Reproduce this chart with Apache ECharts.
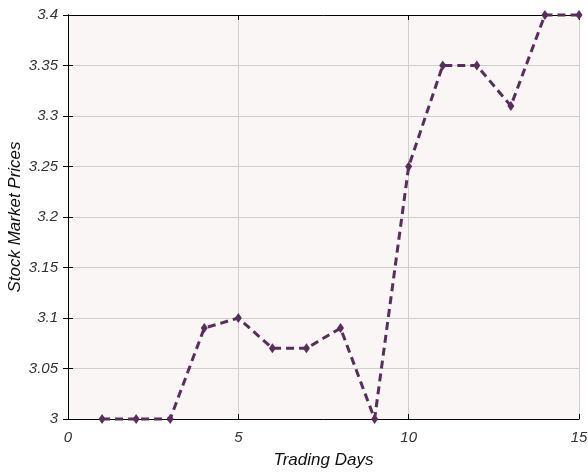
<!DOCTYPE html>
<html><head><meta charset="utf-8">
<script src="https://cdn.jsdelivr.net/npm/echarts@6/dist/echarts.min.js"></script>
<style>html,body{margin:0;padding:0;background:#fff}#c{width:588px;height:472px}</style>
</head><body><div id="c"></div>
<script>
const days = [1,2,3,4,5,6,7,8,9,10,11,12,13,14,15];
const prices = [3.00,3.00,3.00,3.09,3.10,3.07,3.07,3.09,3.00,3.25,3.35,3.35,3.31,3.40,3.40];
const xTicks = [0,5,10,15];
const yTicks = [3,3.05,3.1,3.15,3.2,3.25,3.3,3.35,3.4];

const chart = echarts.init(document.getElementById('c'), null, {renderer:'canvas'});
const lblFont = {fontFamily:'Liberation Sans, Arial, sans-serif', fontStyle:'italic', fontSize:15, color:'#333'};
const axisLine = {show:true, lineStyle:{color:'#000', width:1}};
chart.setOption({
  animation:false,
  backgroundColor:'#fff',
  grid:{left:68, right:9, top:15, bottom:53, show:true, backgroundColor:'#f9f6f5', borderWidth:0,
        containLabel:false, outerBoundsMode:'none'},
  xAxis:[{
    type:'value', min:0, max:15, interval:5,
    axisLine:axisLine,
    axisTick:{show:true, inside:true, length:5, lineStyle:{color:'#000'}},
    axisLabel:Object.assign({margin:11, formatter:v=>String(v)}, lblFont),
    splitLine:{show:true, lineStyle:{color:'#d2cece', width:1}},
    name:'Trading Days', nameLocation:'middle', nameGap:33, nameMoveOverlap:false,
    nameTextStyle:Object.assign({}, lblFont, {fontSize:17, color:'#111'})
  },{
    type:'value', min:0, max:15, interval:5, position:'top',
    axisLine:axisLine,
    axisTick:{show:true, inside:true, length:5, lineStyle:{color:'#000'}},
    axisLabel:{show:false}, splitLine:{show:false}
  }],
  yAxis:[{
    type:'value', min:3, max:3.4, interval:0.05,
    axisLine:axisLine,
    axisTick:{show:true, inside:true, length:5, lineStyle:{color:'#000'}},
    axisLabel:Object.assign({margin:10, formatter:v=>String(+v.toFixed(2))}, lblFont),
    splitLine:{show:true, lineStyle:{color:'#d2cece', width:1}},
    name:'Stock Market Prices', nameLocation:'middle', nameGap:44, nameMoveOverlap:false,
    nameTextStyle:Object.assign({}, lblFont, {fontSize:17, color:'#111'})
  },{
    type:'value', min:3, max:3.4, interval:0.05, position:'right',
    axisLine:axisLine,
    axisTick:{show:true, inside:true, length:5, lineStyle:{color:'#000'}},
    axisLabel:{show:false}, splitLine:{show:false}
  }],
  series:[{
    type:'line',
    data: days.map((d,i)=>[d, prices[i]]),
    symbol:'diamond', symbolSize:[7,10], showSymbol:true,
    lineStyle:{color:'#5a2e5a', width:3, type:[8,5]},
    itemStyle:{color:'#5a2e5a'},
    clip:false
  }]
});
</script></body></html>
